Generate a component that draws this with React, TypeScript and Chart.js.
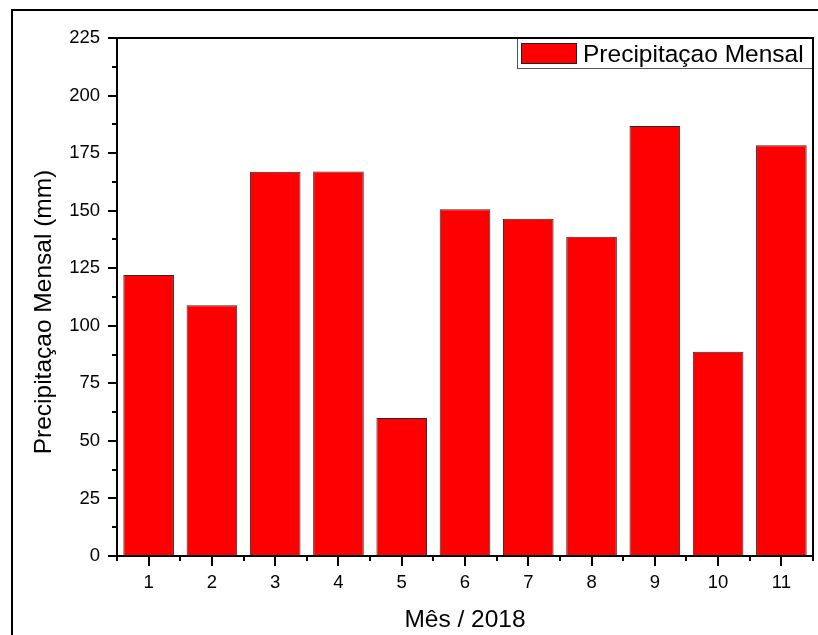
import React, { useEffect, useRef } from "react";
import { Chart, registerables } from "chart.js";

Chart.register(...registerables);

const months = ["1", "2", "3", "4", "5", "6", "7", "8", "9", "10", "11"];
const precipitation = [122.1, 108.9, 166.9, 167.0, 59.9, 150.6, 146.5, 138.7, 186.8, 88.7, 178.4];
const seriesLabel = "Precipitaçao Mensal";
const xTitle = "Mês / 2018";
const yTitle = "Precipitaçao Mensal (mm)";
const yMin = 0;
const yMax = 225;
const yStep = 25;

const FONT = "'Liberation Sans', Arial, sans-serif";

const decorPlugin = {
  id: "decor",
  afterDraw(chart: any) {
    const { ctx, chartArea, scales } = chart;
    const { left, right, top, bottom } = chartArea;
    const x = scales.x;
    const y = scales.y;
    ctx.save();

    // minor y ticks
    ctx.strokeStyle = "#000";
    ctx.lineWidth = 2;
    ctx.beginPath();
    for (let v = yMin + yStep / 2; v < yMax; v += yStep) {
      const py = Math.round(y.getPixelForValue(v));
      ctx.moveTo(left - 5, py);
      ctx.lineTo(left, py);
    }
    // minor x ticks at category boundaries
    for (let i = 0; i <= months.length; i++) {
      const px = Math.round(x.getPixelForValue(i - 0.5));
      ctx.moveTo(px, bottom);
      ctx.lineTo(px, bottom + 5);
    }
    ctx.stroke();

    // legend
    const lx = 517, ly = 38, lw = right - 517, lh = 30;
    ctx.fillStyle = "#fff";
    ctx.fillRect(lx, ly, lw, lh);
    ctx.strokeStyle = "#555";
    ctx.lineWidth = 1;
    ctx.strokeRect(lx + 0.5, ly + 0.5, lw - 1, lh);
    ctx.fillStyle = "#ff0000";
    ctx.fillRect(521, 43, 55, 20);
    ctx.strokeStyle = "#222";
    ctx.strokeRect(521.5, 43.5, 55, 20);
    ctx.fillStyle = "#000";
    ctx.font = `24.5px ${FONT}`;
    ctx.textAlign = "left";
    ctx.textBaseline = "alphabetic";
    ctx.fillText(seriesLabel, 583, 62);

    // plot frame (top and right)
    ctx.strokeStyle = "#000";
    ctx.lineWidth = 2;
    ctx.beginPath();
    ctx.moveTo(left, top);
    ctx.lineTo(right, top);
    ctx.lineTo(right, bottom);
    ctx.stroke();

    // outer frame (left and top)
    ctx.beginPath();
    ctx.moveTo(12, 635);
    ctx.lineTo(12, 10);
    ctx.lineTo(818, 10);
    ctx.stroke();

    // axis titles
    ctx.fillStyle = "#000";
    ctx.font = `24.5px ${FONT}`;
    ctx.textAlign = "center";
    ctx.textBaseline = "alphabetic";
    ctx.fillText(xTitle, (left + right) / 2, 627);
    ctx.translate(51, 312);
    ctx.rotate(-Math.PI / 2);
    ctx.fillText(yTitle, 0, 0);

    ctx.restore();
  },
};

export default function App() {
  const ref = useRef<HTMLCanvasElement | null>(null);
  useEffect(() => {
    if (!ref.current) return;
    const chart = new Chart(ref.current, {
      type: "bar",
      data: {
        labels: months,
        datasets: [
          {
            label: seriesLabel,
            data: precipitation,
            backgroundColor: "#ff0000",
            borderColor: "#2a2a2a",
            borderWidth: 1,
            barPercentage: 0.8,
            categoryPercentage: 1,
          },
        ],
      },
      options: {
        responsive: false,
        animation: false,
        devicePixelRatio: 1,
        layout: { padding: { top: 38, right: 5, left: 0, bottom: 0 } },
        plugins: { legend: { display: false }, tooltip: { enabled: false } },
        scales: {
          x: {
            type: "category",
            offset: true,
            grid: {
              offset: false,
              drawOnChartArea: false,
              drawTicks: true,
              tickLength: 10,
              color: "#000",
              lineWidth: 2,
            },
            border: { display: true, color: "#000", width: 2 },
            ticks: {
              color: "#000",
              font: { family: FONT, size: 18.5 },
              padding: 6,
              maxRotation: 0,
            },
            afterFit: (s: any) => {
              s.height = 79;
            },
          },
          y: {
            min: yMin,
            max: yMax,
            grid: {
              drawOnChartArea: false,
              drawTicks: true,
              tickLength: 9,
              color: "#000",
              lineWidth: 2,
            },
            border: { display: true, color: "#000", width: 2 },
            ticks: {
              stepSize: yStep,
              color: "#000",
              font: { family: FONT, size: 18.5 },
              padding: 8,
            },
            afterFit: (s: any) => {
              s.width = 117;
            },
          },
        },
      },
      plugins: [decorPlugin],
    });
    return () => chart.destroy();
  }, []);

  return (
    <div style={{ position: "absolute", left: 0, top: 0, width: 818, height: 635, background: "#fff" }}>
      <canvas ref={ref} width={818} height={635} style={{ display: "block" }} />
    </div>
  );
}
